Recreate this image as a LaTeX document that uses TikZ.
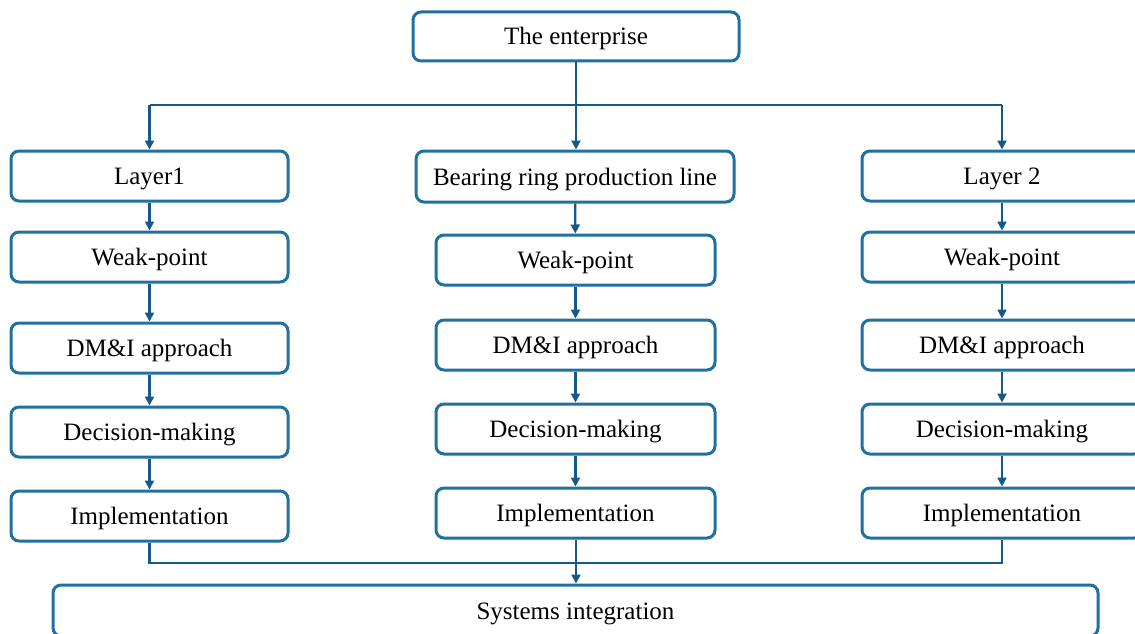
\documentclass[tikz,border=0pt]{standalone}
\usepackage{fontspec}
\setmainfont{Liberation Serif}
\usetikzlibrary{arrows.meta}
\definecolor{boxc}{RGB}{32,112,160}
\definecolor{linec}{RGB}{22,88,136}
\tikzset{
  box/.style={draw=boxc, line width=3pt, rounded corners=8pt, fill=white,
    inner sep=0pt, text height=21pt, text depth=4pt, font=\fontsize{25}{28}\selectfont},
  conn/.style={draw=linec, line width=2.2pt},
  arr/.style={conn, -{Triangle[length=9pt,width=9pt]}}
}
\begin{document}
\begin{tikzpicture}[x=1pt,y=-1pt]
\useasboundingbox (0,0) rectangle (1135,634);
% top
\node[box, minimum width=326pt, minimum height=49pt] (ent) at (576,36.5) {The enterprise};
% left column
\node[box, minimum width=277pt, minimum height=50pt] (l1) at (149.5,176) {Layer1};
\node[box, minimum width=277pt, minimum height=50pt] (l2) at (149.5,257) {Weak-point};
\node[box, minimum width=277pt, minimum height=50pt] (l3) at (149.5,348) {DM\&I approach};
\node[box, minimum width=277pt, minimum height=50pt] (l4) at (149.5,432) {Decision-making};
\node[box, minimum width=277pt, minimum height=50pt] (l5) at (149.5,516) {Implementation};
% middle column
\node[box, minimum width=318pt, minimum height=51pt] (m1) at (575,176.5) {Bearing ring production line};
\node[box, minimum width=279pt, minimum height=50pt] (m2) at (575.5,260) {Weak-point};
\node[box, minimum width=279pt, minimum height=50pt] (m3) at (575.5,345) {DM\&I approach};
\node[box, minimum width=279pt, minimum height=50pt] (m4) at (575.5,429) {Decision-making};
\node[box, minimum width=279pt, minimum height=50pt] (m5) at (575.5,513) {Implementation};
% right column
\node[box, minimum width=280pt, minimum height=50pt] (r1) at (1002,176) {Layer 2};
\node[box, minimum width=280pt, minimum height=50pt] (r2) at (1002,257) {Weak-point};
\node[box, minimum width=280pt, minimum height=50pt] (r3) at (1002,345) {DM\&I approach};
\node[box, minimum width=280pt, minimum height=50pt] (r4) at (1002,429) {Decision-making};
\node[box, minimum width=280pt, minimum height=50pt] (r5) at (1002,513) {Implementation};
% bottom
\node[box, minimum width=1045pt, minimum height=51pt] (sys) at (575.5,610.5) {Systems integration};
% connectors
\coordinate (tj) at (576,105);
\draw[arr] (ent.south -| tj) -- (m1.north -| tj);
\draw[arr] (tj -| l1) -- (l1.north);
\draw[arr] (tj -| r1) -- (r1.north);
\draw[conn] (tj -| l1) -- (tj -| r1);
\foreach \c in {l,m,r}{
  \draw[arr] (\c1) -- (\c2);
  \draw[arr] (\c2) -- (\c3);
  \draw[arr] (\c3) -- (\c4);
  \draw[arr] (\c4) -- (\c5);
}
\coordinate (bj) at (576,563);
\draw[conn] (l5.south) -- (bj -| l5) -- (bj -| r5) -- (r5.south);
\draw[arr] (m5.south -| bj) -- (sys.north -| bj);
\end{tikzpicture}
\end{document}
